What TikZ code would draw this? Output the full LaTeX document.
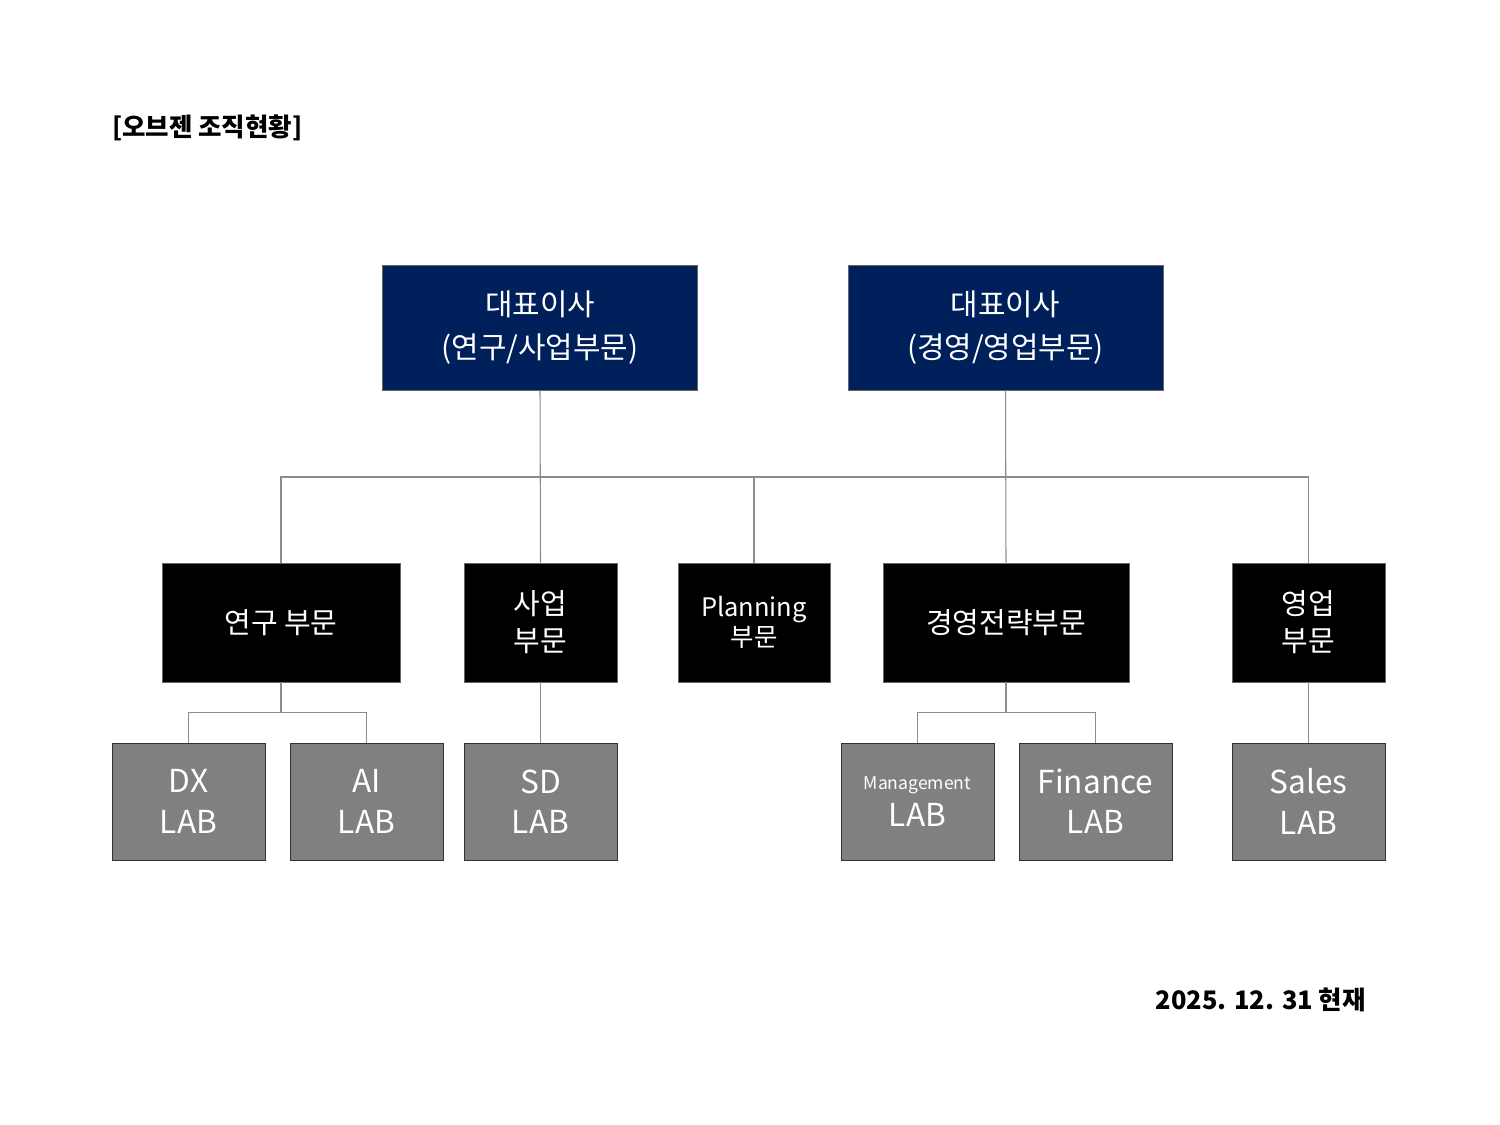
\documentclass[tikz,border=0pt]{standalone}
\usepackage{fontspec}
\setmainfont{Noto Sans CJK KR}
\usetikzlibrary{positioning}
\definecolor{navy}{rgb}{0.0,0.125,0.36}
\definecolor{labgray}{rgb}{0.5,0.5,0.5}
\definecolor{linegray}{rgb}{0.55,0.55,0.55}

\begin{document}
\begin{tikzpicture}[x=0.02cm,y=-0.02cm,
  ceo/.style={draw=black!60,fill=navy,text=white,minimum width=6.3cm,minimum height=2.5cm,align=center,font=\fontsize{17}{24}\selectfont,inner sep=0pt},
  division/.style={draw=black!60,fill=black,text=white,minimum height=2.38cm,align=center,font=\fontsize{16.5}{21}\selectfont,inner sep=0pt},
  lab/.style={draw=black!80,fill=labgray,text=white,minimum width=3.06cm,minimum height=2.34cm,align=center,font=\fontsize{18}{23}\selectfont,inner sep=0pt},
  link/.style={draw=linegray,line width=0.6pt}]

\useasboundingbox (0,0) rectangle (1500,1125);

% title
\node [anchor=west,font=\fontsize{14.5}{16}\selectfont\bfseries] (title) at (106,128) {[오브젠 조직현황]};

% top level
\node [ceo] (ceoA) at (540,327.5) {대표이사\\(연구/사업부문)};
\node [ceo] (ceoB) at (1005.5,327.5) {대표이사\\(경영/영업부문)};

% divisions
\node [division,minimum width=4.76cm] (research) at (281,622.5) {연구 부문};
\node [division,minimum width=3.06cm] (business) at (540.5,622.5) {사업\\부문};
\node [division,minimum width=3.04cm,font=\fontsize{14.5}{17}\selectfont] (planning) at (754,622.5) {Planning\\부문};
\node [division,minimum width=4.92cm] (strategy) at (1006,622.5) {경영전략부문};
\node [division,minimum width=3.06cm] (sales) at (1308.5,622.5) {영업\\부문};

% labs
\node [lab] (dx) at (188.5,801.5) {DX\\LAB};
\node [lab] (ai) at (366.5,801.5) {AI\\LAB};
\node [lab] (sd) at (540.5,801.5) {SD\\LAB};
\node [lab] (mgmt) at (917.5,801.5) {{\fontsize{10}{12}\selectfont Management}\\[-2pt]LAB};
\node [lab] (fin) at (1095.5,801.5) {Finance\\LAB};
\node [lab] (saleslab) at (1308.5,801.5) {Sales\\LAB};

% date
\node [anchor=east,font=\fontsize{14.5}{16}\selectfont\bfseries] (date) at (1372,1000) {2025. 12. 31 현재};

% connectors
\coordinate (bus) at (0,477);
\draw [link] (research.north) |- (bus -| sales.north) -- (sales.north);
\draw [link] (ceoA.south) -- (business.north);
\draw [link] (ceoB.south) -- (strategy.north);
\draw [link] (planning.north) -- (planning.north |- bus);
\draw [link] (research.south) -- ++(0,30) -| (dx.north);
\draw [link] (research.south) ++(0,30) -| (ai.north);
\draw [link] (business.south) -- (sd.north);
\draw [link] (strategy.south) -- ++(0,30) -| (mgmt.north);
\draw [link] (strategy.south) ++(0,30) -| (fin.north);
\draw [link] (sales.south) -- (saleslab.north);

\end{tikzpicture}
\end{document}
